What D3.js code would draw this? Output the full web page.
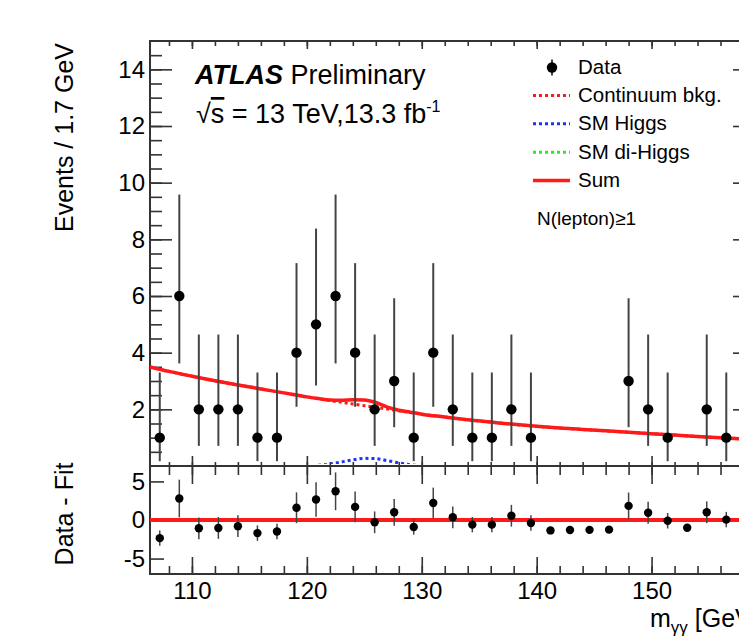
<!DOCTYPE html>
<meta charset="utf-8">
<style>
body { margin: 0; background: #fff; }
text { font-family: "Liberation Sans", Arial, Helvetica, sans-serif; fill: #000; }
.tick line { stroke: #333; stroke-width: 1.6; }
.tick text { font-size: 24px; }
.domain { display: none; }
</style>
<svg width="739" height="637"></svg>
<script src="https://d3js.org/d3.v7.min.js"></script>
<script>

// bin centres (GeV), 1.7 GeV bins
var binCenters = [107.2, 108.9, 110.6, 112.3, 114.0, 115.7, 117.4, 119.1, 120.8, 122.5,
                  124.2, 125.9, 127.6, 129.3, 131.0, 132.7, 134.4, 136.1, 137.8, 139.5,
                  141.2, 142.9, 144.6, 146.3, 148.0, 149.7, 151.4, 153.1, 154.8, 156.5];
// observed events per bin
var counts = [1, 6, 2, 2, 2, 1, 1, 4, 5, 6, 4, 2, 3, 1, 4, 2, 1, 1, 2, 1,
              0, 0, 0, 0, 3, 2, 1, 0, 2, 1];
// asymmetric error bars on the data (down / up)
var errLo = [0.83, 2.38, 1.29, 1.29, 1.29, 0.83, 0.83, 1.91, 2.16, 2.38,
             1.91, 1.29, 1.63, 0.83, 1.91, 1.29, 0.83, 0.83, 1.29, 0.83,
             0, 0, 0, 0, 1.63, 1.29, 0.83, 0, 1.29, 0.83];
var errHi = [2.30, 3.58, 2.64, 2.64, 2.64, 2.30, 2.30, 3.16, 3.38, 3.58,
             3.16, 2.64, 2.92, 2.30, 3.16, 2.64, 2.30, 2.30, 2.64, 2.30,
             0, 0, 0, 0, 2.92, 2.64, 2.30, 0, 2.64, 2.30];

// data - fit
var residuals = [-2.35, 2.78, -1.07, -1.03, -0.8, -1.7, -1.5, 1.58, 2.65, 3.72,
                 1.7, -0.3, 1.0, -0.9, 2.2, 0.35, -0.6, -0.6, 0.55, -0.4,
                 -1.35, -1.3, -1.28, -1.25, 1.83, 0.94, -0.1, -1.0, 1.0, 0.05];
var resErr = [1.0, 2.45, 1.41, 1.41, 1.41, 1.0, 1.0, 2.0, 2.24, 2.45,
              2.0, 1.41, 1.73, 1.0, 2.0, 1.41, 1.0, 1.0, 1.41, 1.0,
              0, 0, 0, 0, 1.73, 1.41, 1.0, 0, 1.41, 1.0];

// fit curves sampled along m_yy
var fitX = [106.35, 108, 110, 112, 114, 116, 118, 120, 121, 122, 123, 124, 125, 126,
            127, 128, 129, 130, 132, 134, 136, 138, 140, 142, 144, 146, 148, 150,
            152, 154, 156, 159];
var continuum = [3.50, 3.34, 3.17, 3.01, 2.86, 2.72, 2.58, 2.44, 2.37, 2.31, 2.25, 2.19, 2.13, 2.07,
                 2.01, 1.95, 1.89, 1.83, 1.73, 1.63, 1.55, 1.47, 1.40, 1.34, 1.29, 1.24, 1.19, 1.14,
                 1.09, 1.04, 1.00, 0.93];
var smHiggs = [0, 0, 0, 0, 0, 0, 0, 0.01, 0.03, 0.07, 0.14, 0.22, 0.27, 0.26,
               0.19, 0.11, 0.045, 0.015, 0, 0, 0, 0, 0, 0, 0, 0, 0, 0,
               0, 0, 0, 0];
var diHiggs = [0, 0, 0, 0, 0, 0, 0, 0, 0, 0, 0.002, 0.004, 0.005, 0.004,
               0.002, 0, 0, 0, 0, 0, 0, 0, 0, 0, 0, 0, 0, 0,
               0, 0, 0, 0];
var sumFit = [3.50, 3.34, 3.17, 3.01, 2.86, 2.72, 2.58, 2.44, 2.38, 2.33, 2.32, 2.34, 2.33, 2.24,
              2.08, 1.97, 1.90, 1.83, 1.73, 1.63, 1.55, 1.47, 1.40, 1.34, 1.29, 1.24, 1.19, 1.14,
              1.09, 1.04, 1.00, 0.93];

var legendLabels = ["Data", "Continuum bkg.", "SM Higgs", "SM di-Higgs", "Sum"];
var legendColors = ["#000", "#ff1a1a", "#1a33ff", "#22ee22", "#ff1a1a"];

var svg = d3.select("svg");

var x = d3.scaleLinear().domain([106.35, 159]).range([150, 755]),
    yTop = d3.scaleLinear().domain([0, 15]).range([466, 41]),
    yBot = d3.scaleLinear().domain([-7, 7]).range([574, 466]);

var majX = d3.range(110, 160, 10),
    minX = d3.range(108, 160, 2);

var defs = svg.append("defs");
defs.append("clipPath").attr("id", "clipTop")
  .append("rect").attr("x", 150).attr("y", 41).attr("width", 605).attr("height", 425);
// curves are hidden where they sit on the axis
defs.append("clipPath").attr("id", "clipCurve")
  .append("rect").attr("x", 150).attr("y", 41).attr("width", 605).attr("height", 423);
defs.append("clipPath").attr("id", "clipBot")
  .append("rect").attr("x", 150).attr("y", 466).attr("width", 605).attr("height", 108);

// ---------- axes ----------
function addAxis(axis, tx, ty) {
  return svg.append("g").attr("transform", "translate(" + tx + "," + ty + ")").call(axis);
}
var noLab = function() { return ""; };

// top panel
addAxis(d3.axisLeft(yTop).tickValues(d3.range(0.5, 15, 0.5)).tickSize(-12).tickFormat(noLab), 150, 0);
addAxis(d3.axisLeft(yTop).tickValues(d3.range(2, 15, 2)).tickSize(-22).tickPadding(5), 150, 0);
addAxis(d3.axisRight(yTop).tickValues(d3.range(0.5, 15, 0.5)).tickSize(-12).tickFormat(noLab), 755, 0);
addAxis(d3.axisRight(yTop).tickValues(d3.range(2, 15, 2)).tickSize(-22).tickFormat(noLab), 755, 0);
addAxis(d3.axisTop(x).tickValues(minX).tickSize(-5).tickFormat(noLab), 0, 41);
addAxis(d3.axisTop(x).tickValues(majX).tickSize(-8).tickFormat(noLab), 0, 41);
addAxis(d3.axisBottom(x).tickValues(minX).tickSize(-4).tickFormat(noLab), 0, 466);
addAxis(d3.axisBottom(x).tickValues(majX).tickSize(-10).tickFormat(noLab), 0, 466);

// bottom panel
addAxis(d3.axisTop(x).tickValues(minX).tickSize(-9).tickFormat(noLab), 0, 466);
addAxis(d3.axisTop(x).tickValues(majX).tickSize(-18).tickFormat(noLab), 0, 466);
addAxis(d3.axisBottom(x).tickValues(minX).tickSize(-8).tickFormat(noLab), 0, 574);
addAxis(d3.axisBottom(x).tickValues(majX).tickSize(-17).tickPadding(8), 0, 574);
addAxis(d3.axisLeft(yBot).tickValues([-5, 0, 5]).tickSize(-14).tickPadding(5)
  .tickFormat(function(d) { return String(d); }), 150, 0);

// frames
svg.append("rect").attr("x", 150).attr("y", 41).attr("width", 605).attr("height", 425)
  .attr("fill", "none").attr("stroke", "#333").attr("stroke-width", 2);
svg.append("rect").attr("x", 150).attr("y", 466).attr("width", 605).attr("height", 108)
  .attr("fill", "none").attr("stroke", "#333").attr("stroke-width", 2);

// ---------- top panel curves ----------
var gCurve = svg.append("g").attr("clip-path", "url(#clipCurve)");

function curve(vals) {
  return d3.line().x(function(d, i) { return x(fitX[i]); })
    .y(function(d) { return yTop(d); }).curve(d3.curveMonotoneX)(vals);
}

gCurve.append("path").attr("d", curve(diHiggs)).attr("fill", "none")
  .attr("stroke", legendColors[3]).attr("stroke-width", 3).attr("stroke-dasharray", "3,3");
gCurve.append("path").attr("d", curve(smHiggs)).attr("fill", "none")
  .attr("stroke", legendColors[2]).attr("stroke-width", 3).attr("stroke-dasharray", "3,3");
gCurve.append("path").attr("d", curve(continuum)).attr("fill", "none")
  .attr("stroke", legendColors[1]).attr("stroke-width", 3).attr("stroke-dasharray", "3,3");
gCurve.append("path").attr("d", curve(sumFit)).attr("fill", "none")
  .attr("stroke", legendColors[4]).attr("stroke-width", 3.5);

// data points
var gTop = svg.append("g").attr("clip-path", "url(#clipTop)");
var pts = binCenters.map(function(c, i) {
  return { x: c, n: counts[i], lo: errLo[i], hi: errHi[i], r: residuals[i], re: resErr[i] };
});

gTop.selectAll(".ebar").data(pts.filter(function(d) { return d.n > 0; }))
  .enter().append("line")
    .attr("x1", function(d) { return x(d.x); })
    .attr("x2", function(d) { return x(d.x); })
    .attr("y1", function(d) { return yTop(d.n - d.lo); })
    .attr("y2", function(d) { return yTop(d.n + d.hi); })
    .attr("stroke", "#444").attr("stroke-width", 2);

gTop.selectAll(".dot").data(pts.filter(function(d) { return d.n > 0; }))
  .enter().append("circle")
    .attr("cx", function(d) { return x(d.x); })
    .attr("cy", function(d) { return yTop(d.n); })
    .attr("r", 5.2).attr("fill", "#000");

// ---------- bottom panel ----------
var gBot = svg.append("g").attr("clip-path", "url(#clipBot)");

gBot.append("line").attr("x1", 150).attr("x2", 755)
  .attr("y1", yBot(0)).attr("y2", yBot(0))
  .attr("stroke", "#ff1a1a").attr("stroke-width", 4);

gBot.selectAll(".rbar").data(pts.filter(function(d) { return d.re > 0; }))
  .enter().append("line")
    .attr("x1", function(d) { return x(d.x); })
    .attr("x2", function(d) { return x(d.x); })
    .attr("y1", function(d) { return yBot(d.r - d.re); })
    .attr("y2", function(d) { return yBot(d.r + d.re); })
    .attr("stroke", "#444").attr("stroke-width", 1.5);

gBot.selectAll(".rdot").data(pts)
  .enter().append("circle")
    .attr("cx", function(d) { return x(d.x); })
    .attr("cy", function(d) { return yBot(d.r); })
    .attr("r", 4.2).attr("fill", "#000");

// ---------- titles ----------
svg.append("text").attr("transform", "translate(73,43) rotate(-90)")
  .attr("text-anchor", "end").attr("font-size", 25).text("Events / 1.7 GeV");
svg.append("text").attr("transform", "translate(73,514) rotate(-90)")
  .attr("text-anchor", "middle").attr("font-size", 25).text("Data - Fit");

var xt = svg.append("text").attr("x", 650).attr("y", 627).attr("font-size", 25);
xt.append("tspan").text("m");
xt.append("tspan").attr("font-size", 17).attr("dy", 6).text("γγ");
xt.append("tspan").attr("dy", -6).text(" [GeV]");

var atl = svg.append("text").attr("x", 195).attr("y", 84).attr("font-size", 27);
atl.append("tspan").attr("font-weight", "bold").attr("font-style", "italic").text("ATLAS");
atl.append("tspan").text(" Preliminary");

var sq = svg.append("text").attr("x", 196).attr("y", 123).attr("font-size", 27);
sq.append("tspan").text("√");
sq.append("tspan").style("text-decoration", "overline").text("s");
sq.append("tspan").text(" = 13 TeV,13.3 fb");
sq.append("tspan").attr("font-size", 16).attr("dy", -11).text("-1");

// ---------- legend ----------
var leg = svg.append("g");
var rows = leg.selectAll("g").data(legendLabels).enter().append("g")
  .attr("transform", function(d, i) { return "translate(0," + (73.5 + i * 28.4) + ")"; });

rows.append("text").attr("x", 578).attr("y", 0).attr("font-size", 20.5)
  .text(function(d) { return d; });

rows.filter(function(d, i) { return i > 0; }).append("line")
  .attr("x1", 533).attr("x2", 570).attr("y1", -6.5).attr("y2", -6.5)
  .attr("stroke", function(d) { return legendColors[legendLabels.indexOf(d)]; })
  .attr("stroke-width", function(d) { return d === "Sum" ? 3.5 : 3; })
  .attr("stroke-dasharray", function(d) { return d === "Sum" ? null : "3,3"; });

var first = rows.filter(function(d, i) { return i === 0; });
first.append("line").attr("x1", 552).attr("x2", 552).attr("y1", -14).attr("y2", 2)
  .attr("stroke", "#444").attr("stroke-width", 2);
first.append("circle").attr("cx", 552).attr("cy", -6).attr("r", 5.2).attr("fill", "#000");

svg.append("text").attr("x", 537).attr("y", 225).attr("font-size", 19).text("N(lepton)≥1");

</script>
